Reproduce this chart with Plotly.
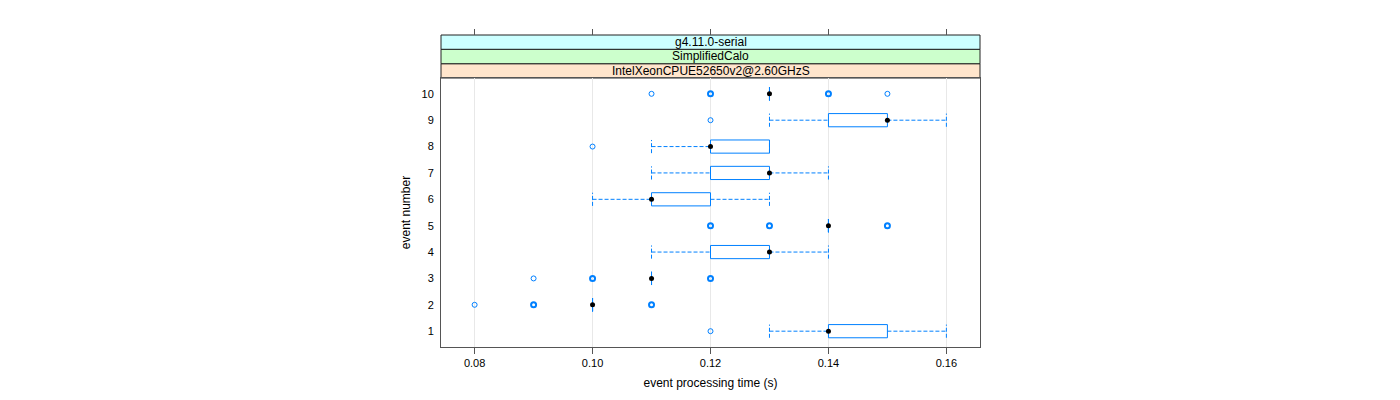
import plotly.graph_objects as go

# ---- data ----
events = [1, 2, 3, 4, 5, 6, 7, 8, 9, 10]
q1 = [0.14, 0.10, 0.11, 0.12, 0.14, 0.11, 0.12, 0.12, 0.14, 0.13]
median = [0.14, 0.10, 0.11, 0.13, 0.14, 0.11, 0.13, 0.12, 0.15, 0.13]
q3 = [0.15, 0.10, 0.11, 0.13, 0.14, 0.12, 0.13, 0.13, 0.15, 0.13]
whisk_lo = [0.13, 0.10, 0.11, 0.11, 0.14, 0.10, 0.11, 0.11, 0.13, 0.13]
whisk_hi = [0.16, 0.10, 0.11, 0.14, 0.14, 0.13, 0.14, 0.13, 0.16, 0.13]

out_event = [1, 2, 2, 2, 3, 3, 3, 5, 5, 5, 8, 9, 10, 10, 10, 10]
out_value = [0.12, 0.08, 0.09, 0.11, 0.09, 0.10, 0.12, 0.12, 0.13, 0.15,
             0.10, 0.12, 0.11, 0.12, 0.14, 0.15]
out_count = [1, 1, 2, 2, 1, 2, 2, 2, 2, 2, 1, 1, 1, 2, 2, 1]

x_ticks = [0.08, 0.10, 0.12, 0.14, 0.16]
x_ticklabels = ["0.08", "0.10", "0.12", "0.14", "0.16"]
strip_labels = ["IntelXeonCPUE52650v2@2.60GHzS", "SimplifiedCalo", "g4.11.0-serial"]

# ---- styles ----
BLUE = "#0080ff"
HW = 0.25  # half box height (category units)
FONT = "Liberation Sans, Arial, Helvetica, sans-serif"
strip_colors = ["#ffe5cc", "#ccffcc", "#ccffff"]

# boxes
bx, by = [], []
for e, a, b in zip(events, q1, q3):
    bx += [a, b, b, a, a, None]
    by += [e - HW, e - HW, e + HW, e + HW, e - HW, None]

# whiskers and caps
wx, wy = [], []
for e, a, b, lo, hi in zip(events, q1, q3, whisk_lo, whisk_hi):
    wx += [lo, a, None, b, hi, None, lo, lo, None, hi, hi, None]
    wy += [e, e, None, e, e, None, e - HW, e + HW, None, e - HW, e + HW, None]

fig = go.Figure()
fig.add_trace(go.Scatter(x=wx, y=wy, mode="lines", hoverinfo="skip",
                         line=dict(color=BLUE, width=1, dash="4px,2px"),
                         showlegend=False))
fig.add_trace(go.Scatter(x=bx, y=by, mode="lines", hoverinfo="skip",
                         line=dict(color=BLUE, width=1), showlegend=False))

thin = [i for i, c in enumerate(out_count) if c == 1]
thick = [i for i, c in enumerate(out_count) if c > 1]
fig.add_trace(go.Scatter(x=[out_value[i] for i in thin], y=[out_event[i] for i in thin],
                         mode="markers", showlegend=False,
                         marker=dict(symbol="circle-open", size=5, color=BLUE,
                                     line=dict(width=1, color=BLUE))))
fig.add_trace(go.Scatter(x=[out_value[i] for i in thick], y=[out_event[i] for i in thick],
                         mode="markers", showlegend=False,
                         marker=dict(symbol="circle-open", size=5, color=BLUE,
                                     line=dict(width=2, color=BLUE))))
fig.add_trace(go.Scatter(x=median, y=events, mode="markers", showlegend=False,
                         marker=dict(symbol="circle", size=5, color="black")))
# dummy trace for the top tick axis
fig.add_trace(go.Scatter(x=[x_ticks[0]], y=[events[0]], xaxis="x2", mode="markers",
                         marker=dict(opacity=0), hoverinfo="skip", showlegend=False))

PANEL_TOP = 0.8622
strip_edges = [PANEL_TOP, 0.9080, 0.9542, 1.0]

shapes = []
annotations = []
for i, lab in enumerate(strip_labels):
    shapes.append(dict(type="rect", xref="paper", yref="paper", x0=0, x1=1,
                       y0=strip_edges[i], y1=strip_edges[i + 1],
                       fillcolor=strip_colors[i], line=dict(color="#222222", width=1),
                       layer="below"))
    annotations.append(dict(xref="paper", yref="paper", x=0.5,
                            y=(strip_edges[i] + strip_edges[i + 1]) / 2,
                            text=lab, showarrow=False,
                            font=dict(family=FONT, size=12, color="black"),
                            xanchor="center", yanchor="middle"))

fig.update_layout(
    width=1400, height=400,
    margin=dict(l=433, r=428, t=27, b=61),
    paper_bgcolor="white", plot_bgcolor="white",
    shapes=shapes, annotations=annotations,
    font=dict(family=FONT, size=11, color="black"),
    xaxis=dict(range=[0.0743, 0.1657], tickvals=x_ticks, ticktext=x_ticklabels,
               showgrid=True, gridcolor="#e8e8e8", gridwidth=1, zeroline=False,
               ticks="outside", ticklen=6, tickcolor="#555555",
               showline=True, linecolor="#555555", linewidth=1, mirror=True,
               tickfont=dict(size=11),
               title=dict(text="event processing time (s)", font=dict(size=12), standoff=10),
               anchor="y"),
    xaxis2=dict(overlaying="x", matches="x", side="top", anchor="free", position=1.0,
                tickvals=x_ticks, showticklabels=False, ticks="outside", ticklen=6,
                tickcolor="#555555", showgrid=False, zeroline=False, showline=False),
    yaxis=dict(domain=[0, PANEL_TOP], range=[0.4, 10.6], tickvals=events,
               ticktext=[str(e) for e in events], showgrid=False, zeroline=False,
               ticks="outside", ticklen=4, tickcolor="rgba(0,0,0,0)",
               showline=True, linecolor="#555555", linewidth=1, mirror=True,
               tickfont=dict(size=11),
               title=dict(text="event number", font=dict(size=12), standoff=8)),
)

fig.write_html("out.html")
